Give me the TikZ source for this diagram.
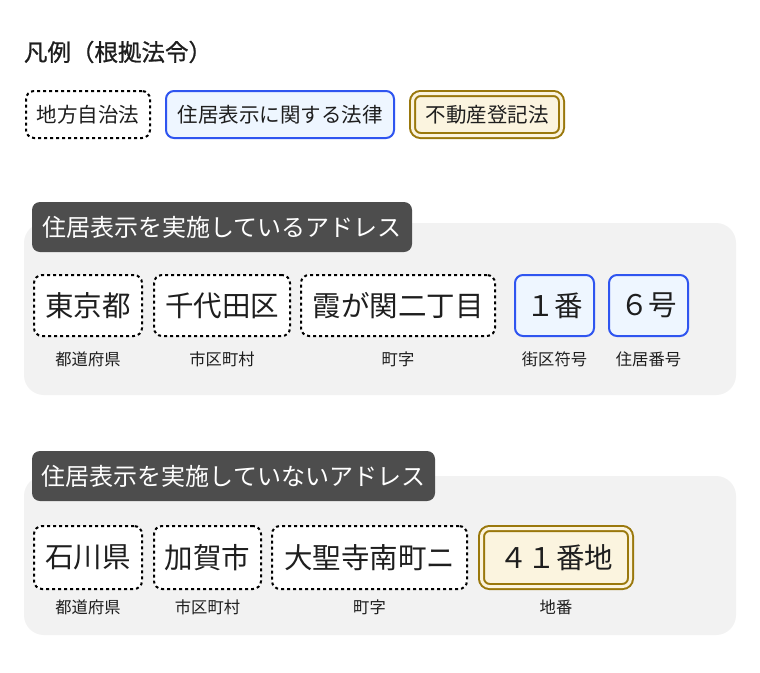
\documentclass[tikz,border=0pt]{standalone}
\usepackage{fontspec}
\setmainfont{Noto Sans CJK JP}
\newfontfamily\titlefont{Noto Sans CJK JP}[FakeBold=0.9]
\begin{document}
\begin{tikzpicture}[x=1pt,y=-1pt,
  every node/.style={inner sep=0pt,outer sep=0pt,text=textc},
  base/.style={rounded corners=8pt,line width=2pt,anchor=center},
  dotbox/.style={base,draw=black,dash pattern=on 3pt off 3pt,fill=white},
  bluebox/.style={base,draw=bluec,fill=bluefill},
  goldbox/.style={rounded corners=8pt,anchor=center,draw=goldc,line width=2pt,double=goldfill,double distance=3pt,fill=goldfill},
  panel/.style={rounded corners=20pt,fill=panelc,anchor=center},
  header/.style={rounded corners=8pt,fill=headc,anchor=center,text=white,font=\fontsize{24}{28}\selectfont},
  legtext/.style={font=\fontsize{20.5}{24}\selectfont},
  addr/.style={font=\fontsize{28.5}{32}\selectfont},
  lab/.style={font=\fontsize{16.3}{18}\selectfont,anchor=center}
]
\definecolor{textc}{HTML}{1E1E1E}
\definecolor{bluec}{HTML}{2F55F0}
\definecolor{bluefill}{HTML}{EEF6FF}
\definecolor{goldc}{HTML}{9A780C}
\definecolor{goldfill}{HTML}{FBF4DF}
\definecolor{panelc}{HTML}{F2F2F2}
\definecolor{headc}{HTML}{4D4D4D}
\useasboundingbox[fill=white] (0,0) rectangle (760,672);

% title and legend
\node[anchor=west,font=\titlefont\fontsize{23.5}{28}\selectfont] (title) at (24,52) {凡例（根拠法令）};
\node[dotbox,legtext,minimum width=124pt,minimum height=47pt] (leg1) at (88,114.5) {地方自治法};
\node[bluebox,legtext,minimum width=228pt,minimum height=47pt] (leg2) at (280,114.5) {住居表示に関する法律};
\node[goldbox,legtext,minimum width=149pt,minimum height=42pt] (leg3) at (487,114.5) {不動産登記法};

% section 1
\node[panel,minimum width=712pt,minimum height=172pt] (panel1) at (380,309) {};
\node[header,minimum width=380pt,minimum height=50pt] (head1) at (222,227) {住居表示を実施しているアドレス};
\node[dotbox,addr,minimum width=108pt,minimum height=61pt] (tokyo) at (88,305.5) {東京都};
\node[dotbox,addr,minimum width=136pt,minimum height=61pt] (chiyoda) at (222,305.5) {千代田区};
\node[dotbox,addr,minimum width=194pt,minimum height=61pt] (kasumi) at (398,305.5) {霞が関二丁目};
\node[bluebox,addr,minimum width=79pt,minimum height=61pt] (ban) at (554.5,305.5) {１番};
\node[bluebox,addr,minimum width=79pt,minimum height=61pt] (go) at (648.5,305.5) {６号};
\node[lab] (l11) at (88,359) {都道府県};
\node[lab] (l12) at (222,359) {市区町村};
\node[lab] (l13) at (398,359) {町字};
\node[lab] (l14) at (554.5,359) {街区符号};
\node[lab] (l15) at (648.5,359) {住居番号};

% section 2
\node[panel,minimum width=712pt,minimum height=159pt] (panel2) at (380,555.5) {};
\node[header,minimum width=403pt,minimum height=50pt] (head2) at (233.5,476) {住居表示を実施していないアドレス};
\node[dotbox,addr,minimum width=108pt,minimum height=63pt] (ishikawa) at (88,557.5) {石川県};
\node[dotbox,addr,minimum width=107pt,minimum height=63pt] (kaga) at (207.5,557.5) {加賀市};
\node[dotbox,addr,minimum width=195pt,minimum height=63pt] (daishoji) at (369.5,557.5) {大聖寺南町ニ};
\node[goldbox,addr,minimum width=149pt,minimum height=58pt] (chiban) at (556,557.5) {４１番地};
\node[lab] (l21) at (88,607) {都道府県};
\node[lab] (l22) at (207.5,607) {市区町村};
\node[lab] (l23) at (369.5,607) {町字};
\node[lab] (l24) at (556,607) {地番};
\end{tikzpicture}
\end{document}
